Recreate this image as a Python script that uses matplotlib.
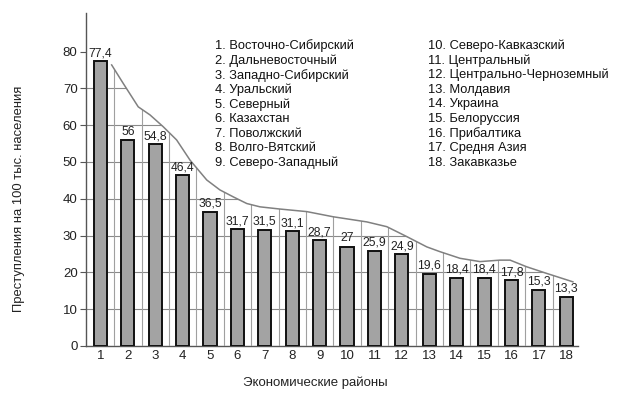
import matplotlib
matplotlib.use("Agg")
import matplotlib.pyplot as plt
from matplotlib.patches import Polygon

plt.rcParams['font.family'] = ['Liberation Sans', 'DejaVu Sans']

regions = ["Восточно-Сибирский", "Дальневосточный", "Западно-Сибирский", "Уральский",
           "Северный", "Казахстан", "Поволжский", "Волго-Вятский", "Северо-Западный",
           "Северо-Кавказский", "Центральный", "Центрально-Черноземный", "Молдавия",
           "Украина", "Белоруссия", "Прибалтика", "Средня Азия", "Закавказье"]
values = [77.4, 56, 54.8, 46.4, 36.5, 31.7, 31.5, 31.1, 28.7, 27, 25.9, 24.9,
          19.6, 18.4, 18.4, 17.8, 15.3, 13.3]
positions = list(range(1, 19))

# smooth envelope curve
curve_x = [1.41, 1.83, 2.38, 2.81, 3.29, 3.78, 4.27, 4.88, 5.36, 5.85, 6.34, 6.82,
           7.55, 8.53, 9.49, 10.72, 11.45, 12.18, 12.91, 13.39, 14.12, 14.85,
           15.58, 15.95, 16.55, 17.28, 18.24]
curve_y = [76.4, 71.4, 65.0, 62.8, 59.6, 56.0, 50.5, 45.1, 42.4, 40.5, 38.7, 37.8,
           37.2, 36.5, 35.1, 33.7, 32.4, 29.7, 26.9, 25.6, 23.8, 22.9,
           23.3, 23.3, 21.5, 19.7, 17.4]

yticks = [0, 10, 20, 30, 40, 50, 60, 70, 80]

fig = plt.figure(figsize=(6.27, 3.97), dpi=100)
ax = fig.add_axes([0.137, 0.129, 0.785, 0.838])
xmin, xmax = 0.47, 18.43
ax.set_xlim(xmin, xmax)
ax.set_ylim(0, 90.5)

# grid clipped under the curve
clip_pts = [(xmin, 0), (xmin, curve_y[0])] + list(zip(curve_x, curve_y)) + [(curve_x[-1], 0)]
clip = Polygon(clip_pts, closed=True, transform=ax.transData, facecolor='none', edgecolor='none')
ax.add_patch(clip)
for yv in yticks[1:]:
    ln, = ax.plot([xmin, 18.2], [yv, yv], color='#8a8a8a', lw=0.8, zorder=1)
    ln.set_clip_path(clip)
for p in positions[:-1]:
    ln, = ax.plot([p + 0.5, p + 0.5], [0, 90], color='#a0a0a0', lw=0.8, zorder=1)
    ln.set_clip_path(clip)

ax.bar(positions, values, width=0.48, color='#a3a3a3', edgecolor='#111111',
       linewidth=1.4, zorder=3)
for p, v in zip(positions, values):
    ax.text(p, v + 0.6, f"{v:g}".replace('.', ','), ha='center', va='bottom',
            fontsize=8.7, color='#222222', zorder=4)

ax.plot(curve_x, curve_y, color='#808080', lw=1.1, zorder=2, solid_joinstyle='round')

for s in ['top', 'right']:
    ax.spines[s].set_visible(False)
ax.spines['left'].set_color('#555555')
ax.spines['bottom'].set_color('#555555')
ax.spines['left'].set_linewidth(1.0)
ax.spines['bottom'].set_linewidth(1.0)

ax.set_yticks(yticks)
ax.set_xticks(positions)
ax.set_xticklabels([str(p) for p in positions])
ax.tick_params(axis='y', length=4, direction='out', color='#555555', labelsize=9.5,
               labelcolor='#222222', pad=2)
ax.tick_params(axis='x', length=0, labelsize=9.5, labelcolor='#222222', pad=3)

fig.text(0.503, 0.035, "Экономические районы", ha='center', va='center',
         fontsize=9.5, color='#222222')
fig.text(0.03, 0.5, "Преступления на 100 тыс. населения", ha='center', va='center',
         rotation=90, fontsize=9.4, color='#222222')

# legend text
col1_x, col2_x = 215 / 627, 428 / 627
y0 = 1 - 46 / 397
dy = 14.6 / 397
for i, name in enumerate(regions):
    col = col1_x if i < 9 else col2_x
    row = i if i < 9 else i - 9
    fig.text(col, y0 - row * dy, f"{i + 1}. {name}", ha='left', va='center',
             fontsize=9.3, color='#111111')

fig.savefig("out.png", dpi=100)
